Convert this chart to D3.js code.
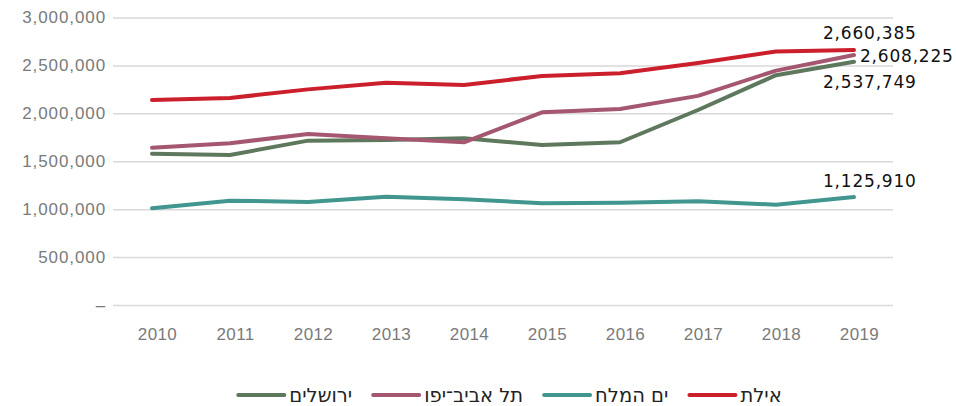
<!DOCTYPE html>
<html lang="he">
<head>
<meta charset="utf-8">
<script src="https://cdn.jsdelivr.net/npm/d3@7"></script>
<style>
  html, body { margin: 0; padding: 0; background: #fff; }
  svg { display: block; font-family: "DejaVu Sans", sans-serif; }
</style>
</head>
<body>
<div id="chart"></div>
<script>
const years = [2010, 2011, 2012, 2013, 2014, 2015, 2016, 2017, 2018, 2019];
const jerusalem = [1579000, 1566000, 1715000, 1722000, 1740000, 1670000, 1698000, 2035000, 2398000, 2537749];
const telAviv = [1642000, 1688000, 1785000, 1740000, 1698000, 2011000, 2046000, 2182000, 2446000, 2608225];
const deadSea = [1009000, 1089000, 1075000, 1130000, 1103000, 1062000, 1068000, 1082000, 1047000, 1125910];
const eilat = [2140000, 2160000, 2250000, 2320000, 2296000, 2390000, 2418000, 2526000, 2645000, 2660385];
const seriesNames = ['ירושלים', 'תל אביב־יפו', 'ים המלח', 'אילת'];
const seriesColors = ['#5e785e', '#a4576f', '#41978f', '#cc1f2c'];
const yTicks = [0, 500000, 1000000, 1500000, 2000000, 2500000, 3000000];

const w = 956;
const h = 406;
const plotLeft = 113, plotRight = 893, plotTop = 17.5, plotBottom = 305;

const series = [jerusalem, telAviv, deadSea, eilat].map((vals, i) => ({
  name: seriesNames[i],
  color: seriesColors[i],
  values: vals.map((v, j) => ({ year: years[j], value: v }))
}));

const svg = d3.select('#chart').append('svg')
  .attr('width', w)
  .attr('height', h);

const xScale = d3.scalePoint()
  .domain(years)
  .range([plotLeft, plotRight])
  .padding(0.5);

const yScale = d3.scaleLinear()
  .domain([0, 3000000])
  .range([plotBottom, plotTop]);

// y axis + gridlines
const yAxis = d3.axisLeft(yScale)
  .tickValues(yTicks)
  .tickSizeInner(-(plotRight - plotLeft))
  .tickSizeOuter(0)
  .tickPadding(7)
  .tickFormat(d => d === 0 ? '–' : d3.format(',')(d));

const gy = svg.append('g')
  .attr('transform', `translate(${plotLeft},0)`)
  .call(yAxis);
gy.select('.domain').remove();
gy.selectAll('line').attr('stroke', '#d9d9d9').attr('stroke-width', 1.5);
gy.selectAll('text')
  .attr('fill', '#7a7a7a')
  .attr('font-size', 17)
  .attr('letter-spacing', 0.9);

// x axis
const xAxis = d3.axisBottom(xScale)
  .tickSize(0)
  .tickPadding(23);

const gx = svg.append('g')
  .attr('transform', `translate(0,${plotBottom})`)
  .call(xAxis);
gx.select('.domain').remove();
gx.selectAll('text')
  .attr('fill', '#7a7a7a')
  .attr('font-size', 17)
  .attr('letter-spacing', 0.4)
  .attr('dx', 5);

// lines
const line = d3.line()
  .x(d => xScale(d.year))
  .y(d => yScale(d.value));

svg.selectAll('path.series')
  .data([series[2], series[0], series[1], series[3]])
  .enter()
  .append('path')
  .attr('class', 'series')
  .attr('d', d => line(d.values))
  .attr('fill', 'none')
  .attr('stroke', d => d.color)
  .attr('stroke-width', 4)
  .attr('stroke-linecap', 'round')
  .attr('stroke-linejoin', 'round');

// end labels
const labelOffsets = [
  { dx: -31, dy: 26 },   // jerusalem, below
  { dx: 6, dy: 7 },      // tel aviv, right
  { dx: -31, dy: -10 },  // dead sea, above
  { dx: -31, dy: -11 }   // eilat, above
];
series.forEach((s, i) => {
  const last = s.values[s.values.length - 1];
  svg.append('text')
    .attr('x', xScale(last.year) + labelOffsets[i].dx)
    .attr('y', yScale(last.value) + labelOffsets[i].dy)
    .attr('font-size', 17)
    .attr('letter-spacing', 0.8)
    .attr('fill', '#111')
    .text(d3.format(',')(last.value));
});

// legend
const legend = svg.append('g').attr('transform', 'translate(0,395)');
const items = legend.selectAll('g')
  .data(series)
  .enter()
  .append('g');
items.append('line')
  .attr('x1', 0).attr('x2', 46)
  .attr('y1', 0).attr('y2', 0)
  .attr('stroke', d => d.color)
  .attr('stroke-width', 4)
  .attr('stroke-linecap', 'round');
items.append('text')
  .attr('x', 51)
  .attr('y', 0)
  .attr('dy', '0.38em')
  .attr('font-size', 19.5)
  .attr('fill', '#222')
  .text(d => d.name);

const widths = [];
items.each(function () {
  const tw = d3.select(this).select('text').node().getComputedTextLength();
  widths.push(51 + tw);
});
const gap = 21;
const total = d3.sum(widths) + gap * (widths.length - 1);
let cursor = 510 - total / 2;
items.each(function (d, i) {
  d3.select(this).attr('transform', `translate(${cursor},0)`);
  cursor += widths[i] + gap;
});
</script>
</body>
</html>
